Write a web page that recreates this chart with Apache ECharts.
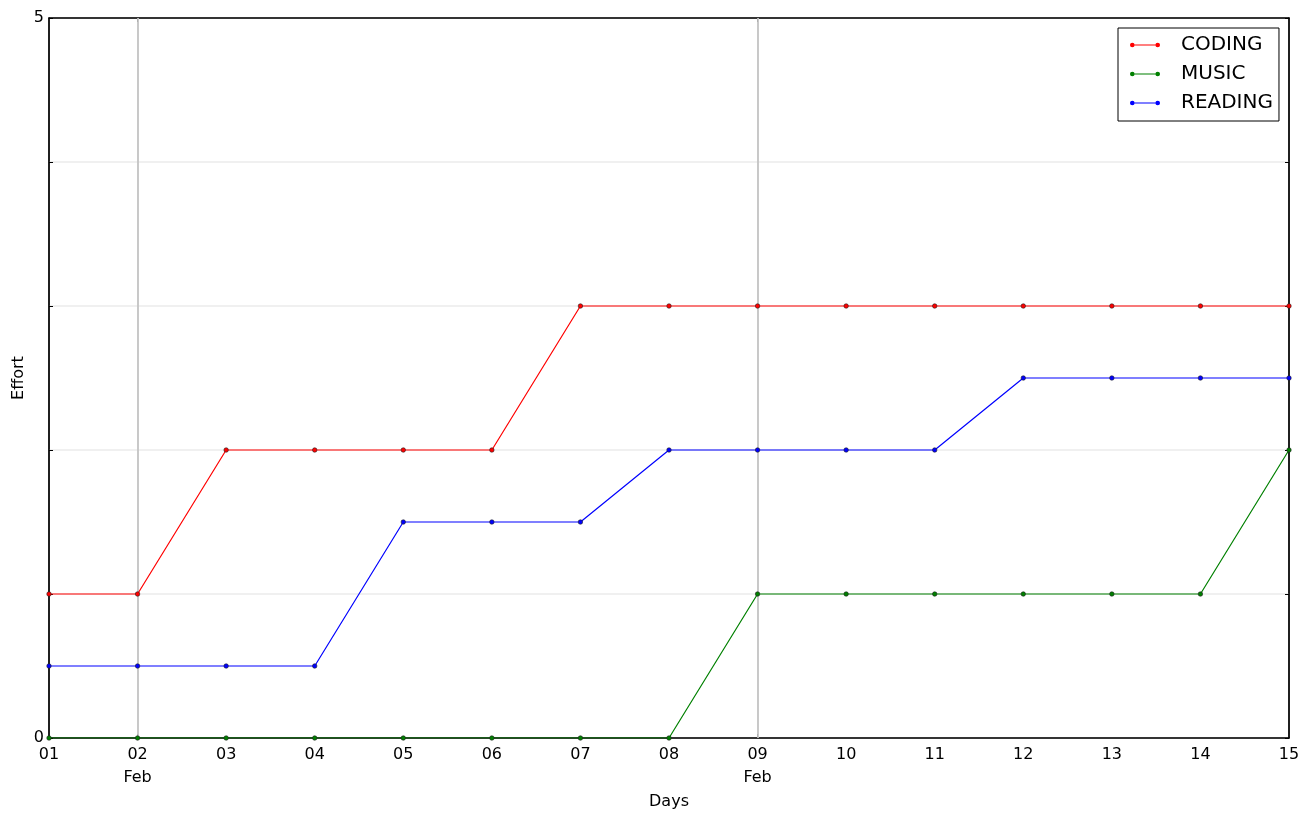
<!DOCTYPE html>
<html>
<head>
<meta charset="utf-8">
<script src="https://cdn.jsdelivr.net/npm/echarts@6/dist/echarts.min.js"></script>
<style>html,body{margin:0;padding:0;background:#fff}#c{width:1307px;height:819px}</style>
</head>
<body>
<div id="c"></div>
<script>
var days = [1,2,3,4,5,6,7,8,9,10,11,12,13,14,15];
var coding  = [1,1,2,2,2,2,3,3,3,3,3,3,3,3,3];
var music   = [0,0,0,0,0,0,0,0,1,1,1,1,1,1,2];
var reading = [0.5,0.5,0.5,0.5,1.5,1.5,1.5,2,2,2,2,2.5,2.5,2.5,2.5];
var monthTicks = [2,9];
var monthLabel = 'Feb';
var yTickLabels = [0,5];

function pad(v){ return (v<10?'0':'') + v; }
function pairs(arr){ return days.map(function(d,i){ return [d, arr[i]]; }); }

var font = 'DejaVu Sans';
var legendIcon = 'path://M0,2.6 L30,2.6 L30,3.4 L0,3.4 Z M0,3 A2.3,2.3 0 1 1 4.6,3 A2.3,2.3 0 1 1 0,3 Z M25.4,3 A2.3,2.3 0 1 1 30,3 A2.3,2.3 0 1 1 25.4,3 Z';
var colors = {CODING: '#ff0000', MUSIC: '#008000', READING: '#0000ff'};

function mkSeries(name, arr, color){
  return {
    name: name, type: 'line', data: pairs(arr),
    symbol: 'circle', symbolSize: 4.5,
    lineStyle: {color: color, width: 1.2},
    itemStyle: {color: color, borderColor: '#222', borderWidth: 0.6},
    emphasis: {disabled: true},
    animation: false, z: 3
  };
}
function legendItem(name){
  return {name: name, icon: legendIcon, itemStyle: {color: colors[name], borderWidth: 0, borderColor: colors[name]}};
}

var chart = echarts.init(document.getElementById('c'), null, {renderer: 'canvas'});
chart.setOption({
  animation: false,
  backgroundColor: '#fff',
  grid: {left: 49, top: 18, width: 1240, height: 720, containLabel: false, outerBoundsMode: 'none',
         show: true, borderColor: '#000', borderWidth: 1, backgroundColor: 'transparent'},
  legend: {
    left: 1118, top: 28,
    orient: 'vertical',
    backgroundColor: '#fff',
    borderColor: '#000', borderWidth: 1,
    padding: [7, 6, 8, 12],
    itemGap: 9,
    itemWidth: 30, itemHeight: 6,
    textStyle: {fontFamily: font, fontSize: 20, color: '#000', padding: [0,0,0,16]},
    data: [legendItem('CODING'), legendItem('MUSIC'), legendItem('READING')]
  },
  xAxis: [{
    type: 'value', min: 1, max: 15, interval: 1,
    name: 'Days', nameLocation: 'middle', nameGap: 56, nameMoveOverlap: false,
    nameTextStyle: {fontFamily: font, fontSize: 16, color: '#000'},
    axisLine: {show: true, onZero: false, lineStyle: {color: '#000', width: 1.5}},
    axisTick: {show: true, inside: true, length: 4, lineStyle: {color: '#000'}, customValues: monthTicks},
    axisLabel: {
      fontFamily: font, fontSize: 16, color: '#000', margin: 5, lineHeight: 23,
      formatter: function(v){ return pad(v) + (monthTicks.indexOf(v) >= 0 ? '\n' + monthLabel : ''); }
    },
    splitLine: {show: true, lineStyle: {color: '#ebebeb', width: 1.6}}
  }, {
    type: 'value', min: 1, max: 15, interval: 1, position: 'top',
    axisLine: {show: true, onZero: false, lineStyle: {color: '#000', width: 1.5}},
    axisTick: {show: true, inside: true, length: 4, lineStyle: {color: '#000'}, customValues: monthTicks},
    axisLabel: {show: false},
    splitLine: {show: false}
  }],
  yAxis: [{
    type: 'value', min: 0, max: 5, interval: 1,
    name: 'Effort', nameLocation: 'middle', nameGap: 22, nameMoveOverlap: false,
    nameTextStyle: {fontFamily: font, fontSize: 16, color: '#000'},
    axisLine: {show: true, lineStyle: {color: '#000', width: 1.5}},
    axisTick: {show: true, inside: true, length: 4, lineStyle: {color: '#000'}},
    axisLabel: {
      fontFamily: font, fontSize: 16, color: '#000', margin: 5,
      formatter: function(v){ return yTickLabels.indexOf(v) >= 0 ? String(v) : ''; }
    },
    splitLine: {show: true, lineStyle: {color: '#ebebeb', width: 1.5}}
  }, {
    type: 'value', min: 0, max: 5, interval: 1, position: 'right',
    axisLine: {show: true, lineStyle: {color: '#000', width: 1.5}},
    axisTick: {show: true, inside: true, length: 4, lineStyle: {color: '#000'}},
    axisLabel: {show: false},
    splitLine: {show: false}
  }],
  series: [
    {
      name: 'monthLines', type: 'line', data: [], z: 1, silent: true,
      markLine: {
        silent: true, symbol: 'none', animation: false, z: 1,
        label: {show: false},
        emphasis: {disabled: true},
        lineStyle: {color: '#c4c4c4', width: 1.8, type: 'solid'},
        data: monthTicks.map(function(m){ return {xAxis: m}; })
      }
    },
    mkSeries('CODING', coding, colors.CODING),
    mkSeries('MUSIC', music, colors.MUSIC),
    mkSeries('READING', reading, colors.READING)
  ]
});
</script>
</body>
</html>
